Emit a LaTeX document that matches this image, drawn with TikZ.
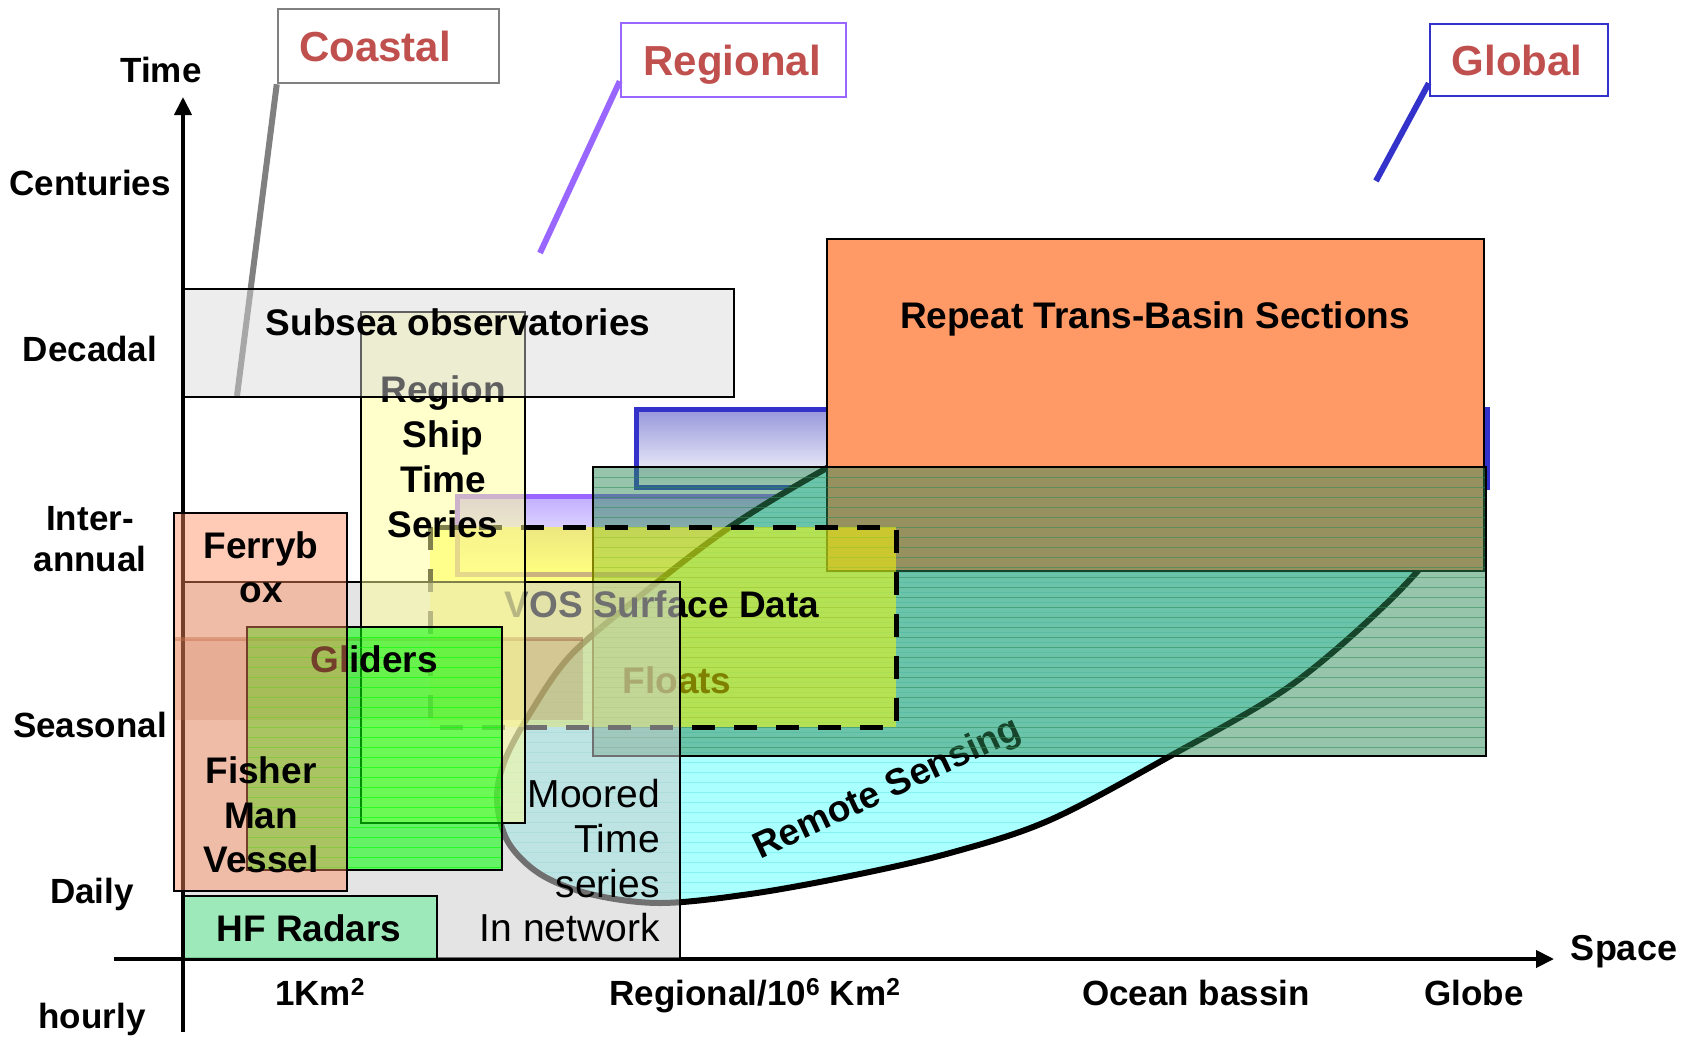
\documentclass[tikz,border=0pt]{standalone}
\usepackage{fontspec}
\setmainfont{Liberation Sans}
\usetikzlibrary{arrows.meta,calc}

\definecolor{labelred}{RGB}{192,80,77}
\definecolor{coastgray}{RGB}{128,128,128}
\definecolor{regpurple}{RGB}{153,102,255}
\definecolor{globblue}{RGB}{51,51,204}
\definecolor{orangebox}{RGB}{255,153,102}
\definecolor{floatgreen}{RGB}{46,139,87}
\definecolor{rscyan}{RGB}{170,255,255}
\definecolor{rsstripe}{RGB}{110,235,235}
\definecolor{vosyellow}{RGB}{255,255,0}
\definecolor{mooredgray}{RGB}{205,205,205}
\definecolor{shipyellow}{RGB}{255,255,153}
\definecolor{glidergreen}{RGB}{0,255,0}
\definecolor{ferrysalmon}{RGB}{255,140,95}
\definecolor{hfgreen}{RGB}{128,236,168}
\definecolor{subseagray}{RGB}{215,215,215}
\definecolor{blueshade}{RGB}{150,150,220}
\definecolor{purpleshade}{RGB}{195,175,255}
\definecolor{bandbrown}{RGB}{150,90,60}

\tikzset{
  axisarrow/.style={line width=4pt, -{Triangle[length=18pt,width=17pt]}},
  leader/.style={line width=6pt},
  tagbox/.style={draw=#1, line width=2.5pt, inner sep=0pt},
  tagtext/.style={font=\fontsize{42}{48}\selectfont\bfseries, text=labelred, inner sep=0pt, anchor=base},
  boxtext/.style={font=\fontsize{37}{44}\selectfont\bfseries, inner sep=0pt, anchor=base},
  plaintext/.style={font=\fontsize{39}{46}\selectfont, inner sep=0pt, anchor=base east},
  axlabel/.style={font=\fontsize{35}{42}\selectfont\bfseries, inner sep=0pt, anchor=base},
  frame/.style={draw=black, line width=2pt},
  vosdash/.style={draw=black, line width=5pt, dash pattern=on 23pt off 19pt}
}

% outline of the remote sensing footprint (upper part lies under the trans-basin box)
\def\rspath{plot[smooth cycle, tension=0.55] coordinates {
  (827,468) (730,527) (640,596) (571,655) (532,710) (505,760) (497,800)
  (508,842) (540,874) (590,894) (660,903) (750,894) (850,876) (950,853)
  (1050,820) (1172,755) (1290,686) (1387,603) (1447,535) (1470,485)
  (1468,430) (1430,385) (1330,350) (1120,362) (930,415)}}

\begin{document}
\begin{tikzpicture}[x=1pt,y=-1pt]
\useasboundingbox (0,0) rectangle (1686,1036);

% axes
\coordinate (yfoot) at (183,1032);
\coordinate (ytip) at (183,97);
\coordinate (xfoot) at (114,959);
\coordinate (xtip) at (1554,959);
\draw[axisarrow] (yfoot) -- (ytip);
\draw[axisarrow] (xfoot) -- (xtip);

% scale tags and their leaders
\node[tagbox=coastgray, minimum width=221pt, minimum height=74pt] (coastbox) at (388.5,46) {};
\node[tagbox=regpurple, minimum width=225pt, minimum height=74pt] (regbox) at (733.5,60) {};
\node[tagbox=globblue, minimum width=178pt, minimum height=72pt] (globbox) at (1519,60) {};
\node[tagtext] (coasttxt) at (375,61) {Coastal};
\node[tagtext] (regtxt) at (732,75) {Regional};
\node[tagtext] (globtxt) at (1517,75) {Global};
\coordinate (coastfoot) at (237,396);
\coordinate (regfoot) at (540,253);
\coordinate (globfoot) at (1376,181);
\draw[leader, coastgray] (coastbox.south west) -- (coastfoot);
\draw[leader, regpurple] ([yshift=17pt]regbox.south west) -- (regfoot);
\draw[leader, globblue] ([yshift=14pt]globbox.south west) -- (globfoot);

% global extension band
\path[top color=blueshade, bottom color=white] (636,409) rectangle (1487,487);
\draw[globblue, line width=5pt] (636,409) rectangle (1487,487);

% regional extension band
\path[top color=purpleshade, bottom color=white] (457,496) rectangle (1031,574);
\draw[regpurple, line width=5pt] (457,496) rectangle (1031,574);

% remote sensing footprint
\fill[rscyan] \rspath;
\begin{scope}
  \clip \rspath;
  \foreach \yy in {472,482,...,902}
    \draw[rsstripe, line width=0.8pt, draw opacity=0.6] (480,\yy) -- (1470,\yy);
\end{scope}
\draw[line width=6pt] \rspath;
\node[boxtext, anchor=center, rotate=25] (rstxt) at (888,790) {Remote Sensing};

% repeat trans-basin sections
\filldraw[fill=orangebox, frame] (827,239) rectangle (1484,571);
\node[boxtext] (rtbtxt) at (1155,328) {Repeat Trans-Basin Sections};

% floats
\fill[floatgreen, fill opacity=0.5] (593,467) rectangle (1486,756);
\foreach \yy in {477,487,...,747}
  \draw[floatgreen, line width=1pt, draw opacity=0.55] (593,\yy) -- (1486,\yy);
\draw[frame] (593,467) rectangle (1486,756);
\node[boxtext] (floatstxt) at (677,693) {Floats};

% VOS surface data
\fill[vosyellow, fill opacity=0.5] (430,527) rectangle (896,727);
\draw[vosdash] (430,527) rectangle (896,727);
\node[boxtext] (vostxt) at (662,617) {VOS Surface Data};

% moored time series
\fill[mooredgray, fill opacity=0.55] (184,582) rectangle (680,959);
\draw[frame] (184,582) rectangle (680,959);
\node[plaintext] (moor1) at (660,807) {Moored};
\node[plaintext] (moor2) at (660,852) {Time};
\node[plaintext] (moor3) at (660,897) {series};
\node[plaintext] (moor4) at (660,941) {In network};

% shaded band across the coastal boxes
\fill[bandbrown, fill opacity=0.2] (174,639) rectangle (583,720);
\draw[bandbrown, line width=4pt, draw opacity=0.45] (174,639) -- (583,639);

% region ship time series
\fill[shipyellow, fill opacity=0.5] (361,312) rectangle (525,823);
\draw[frame] (361,312) rectangle (525,823);
\node[boxtext] (ship1) at (443,402) {Region};
\node[boxtext] (ship2) at (443,447) {Ship};
\node[boxtext] (ship3) at (443,492) {Time};
\node[boxtext] (ship4) at (443,537) {Series};

% gliders
\fill[glidergreen, fill opacity=0.55] (247,627) rectangle (502,870);
\foreach \yy in {637,647,...,867}
  \draw[glidergreen, line width=1pt, draw opacity=0.6] (247,\yy) -- (502,\yy);
\draw[frame] (247,627) rectangle (502,870);
\node[boxtext] (glitxt) at (374,672) {Gliders};

% ferrybox and fisherman vessels
\fill[ferrysalmon, fill opacity=0.45] (174,513) rectangle (347,891);
\draw[frame] (174,513) rectangle (347,891);
\node[boxtext] (fer1) at (261,558) {Ferryb};
\node[boxtext] (fer2) at (261,602) {ox};
\node[boxtext] (fish1) at (261,783) {Fisher};
\node[boxtext] (fish2) at (261,828) {Man};
\node[boxtext] (fish3) at (261,872) {Vessel};

% HF radars
\fill[hfgreen, fill opacity=0.7] (184,896) rectangle (437,959);
\draw[frame] (184,896) rectangle (437,959);
\node[boxtext] (hftxt) at (309,941) {HF Radars};

% subsea observatories
\fill[subseagray, fill opacity=0.45] (184,289) rectangle (734,397);
\draw[frame] (184,289) rectangle (734,397);
\node[boxtext] (subtxt) at (458,335) {Subsea observatories};

% time axis labels
\node[axlabel] (ltime) at (161,82) {Time};
\node[axlabel] (lcent) at (90,195) {Centuries};
\node[axlabel] (ldec) at (90,361) {Decadal};
\node[axlabel] (linter) at (90,530) {Inter-};
\node[axlabel] (lannual) at (90,571) {annual};
\node[axlabel] (lseas) at (90,737) {Seasonal};
\node[axlabel] (ldaily) at (92,903) {Daily};
\node[axlabel] (lhour) at (92,1028) {hourly};

% space axis labels
\node[axlabel, font=\fontsize{36}{42}\selectfont\bfseries] (lspace) at (1624,960) {Space};
\node[axlabel] (lkm) at (320,1005) {1Km\textsuperscript{2}};
\node[axlabel] (lreg) at (755,1005) {Regional/10\textsuperscript{6} Km\textsuperscript{2}};
\node[axlabel] (locean) at (1196,1005) {Ocean bassin};
\node[axlabel] (lglobe) at (1474,1005) {Globe};
\end{tikzpicture}
\end{document}
